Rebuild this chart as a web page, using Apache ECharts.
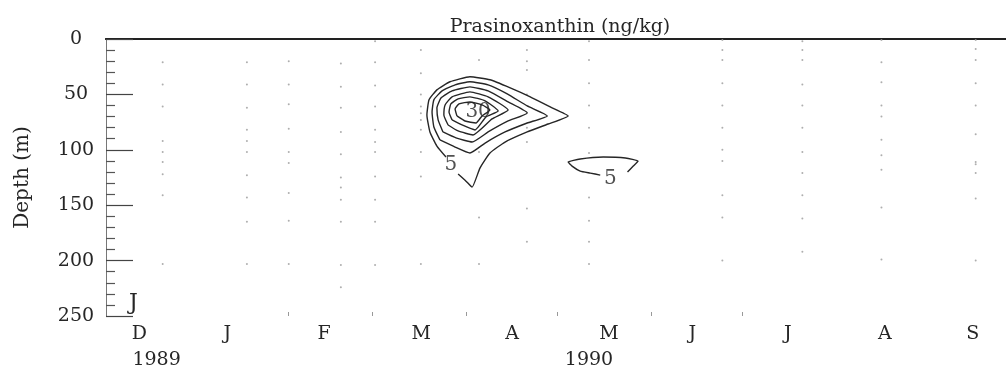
<!DOCTYPE html>
<html><head><meta charset="utf-8">
<script src="https://cdn.jsdelivr.net/npm/echarts@6/dist/echarts.min.js"></script>
<style>html,body{margin:0;padding:0;background:#fff}#c{width:1006px;height:371px}</style>
</head><body><div id="c"></div>
<script>
// x unit: days since 1 Dec 1989 ; y unit: depth (m)
const monthLabels = ['D','J','F','M','A','M','J','J','A','S'];
const monthLabelDays = [13, 42, 74, 106, 136, 168, 195.5, 227, 259, 288];
const monthStartDays = [62, 90, 121, 151, 182, 212];
const yearLabels = ['1989', '1990'];
const yearLabelDays = [18.7, 161.4];
const depthTicks = [0, 50, 100, 150, 200, 250];

// sampling stations (day) and sampled depths (m)
const sampleDays = [20.7, 48.5, 62.3, 79.5, 90.8, 105.9, 125.1, 140.9, 161.4, 205.4, 231.8, 257.9, 289.0];
const sampleDepths = [
  [21, 41, 61, 92, 102, 111, 122, 141, 203],
  [21, 41, 62, 82, 92, 102, 123, 143, 165, 203],
  [20, 41, 59, 81, 102, 112, 139, 164, 203],
  [22, 43, 62, 84, 104, 125, 134, 145, 165, 204, 224],
  [2, 21, 42, 61, 82, 93, 102, 124, 145, 165, 204],
  [10, 31, 50, 61, 67, 73, 82, 102, 124, 203],
  [19, 102, 161, 203],
  [10, 20, 28, 50, 80, 93, 153, 183],
  [2, 19, 40, 60, 80, 103, 143, 164, 183, 203],
  [1, 10, 19, 40, 60, 80, 100, 110, 141, 161, 200],
  [2, 10, 19, 41, 60, 80, 102, 121, 141, 162, 192],
  [1, 21, 39, 60, 70, 91, 105, 118, 152, 199],
  [1, 9, 19, 40, 60, 86, 111, 113, 121, 144, 200]
];

const contour5 = [[114.2,106.5],[111.2,96.6],[108.9,83.9],[107.9,68.5],[108.6,54.9],[111.2,45.9],[115.5,38.6],[122.1,34.1],[128.7,36.8],[135.4,44.1],[142.0,52.2],[148.6,61.3],[154.5,69.4],[147.9,76.7],[141.0,83.9],[133.7,93.0],[128.7,102.9],[125.4,116.5],[122.8,133.7],[120.8,128.3],[118.2,121.9]];
const contour10 = [[112.2,91.1],[110.2,79.4],[109.6,65.8],[110.2,54.9],[112.9,46.8],[117.2,41.4],[122.1,38.6],[128.1,41.4],[134.4,49.5],[141.0,60.4],[147.6,69.4],[141.0,75.8],[133.7,83.9],[127.1,93.9],[122.1,102.9],[117.2,97.5],[112.2,91.1]];
const contour15 = [[113.2,83.9],[111.6,73.0],[111.2,62.2],[112.6,53.1],[116.2,46.8],[122.1,43.2],[128.1,46.8],[134.7,56.8],[141.0,66.7],[134.7,74.0],[128.1,83.9],[122.8,93.0],[117.5,89.3],[113.2,83.9]];
const contour20 = [[114.9,77.6],[113.5,68.5],[113.9,59.5],[116.2,52.2],[122.1,47.7],[128.1,52.2],[134.7,64.0],[129.4,72.1],[123.1,86.6],[118.2,83.0],[114.9,77.6]];
const contour25 = [[116.2,73.0],[115.2,65.8],[115.8,58.6],[118.2,54.0],[122.1,52.2],[127.1,55.8],[131.4,64.9],[127.4,70.3],[123.8,82.1],[119.5,77.6],[116.2,73.0]];
const contour30 = [[117.8,69.4],[117.2,63.1],[118.5,58.6],[122.1,56.8],[126.1,59.5],[128.7,64.0],[126.1,69.4],[124.1,75.8],[120.5,74.0],[117.8,69.4]];
const contour5b = [[165.1,122.8],[161.8,121.0],[158.5,119.2],[155.8,114.7],[154.5,111.1],[158.5,108.3],[166.1,106.5],[173.4,107.4],[177.6,110.2],[176.0,114.7],[174.1,120.1]];
const contourLabelText = ['30', '5', '5'];
const contourLabelPos = [[124.8, 65.8], [115.8, 113.8], [168.4, 126.4]];

const FONT = 'DejaVu Serif';
const INK = '#262626';
const X_MIN = 2, X_MAX = 299;

function pick(list, vals, v) {
  for (let i = 0; i < vals.length; i++) if (Math.abs(vals[i] - v) < 0.01) return list[i];
  return '';
}

const dots = [];
sampleDays.forEach((d, i) => sampleDepths[i].forEach(z => dots.push([d, z])));

const contourSeries = [contour5, contour10, contour15, contour20, contour25, contour30, contour5b].map(c => ({
  type: 'line', data: c, symbol: 'none', smooth: 0.15, silent: true,
  lineStyle: { color: INK, width: 1.4 }, z: 3
}));

const chart = echarts.init(document.getElementById('c'), null, { renderer: 'canvas' });
chart.setOption({
  animation: false,
  backgroundColor: '#fff',
  title: [
    { text: 'Prasinoxanthin (ng/kg)', left: 555, top: 13, textAlign: 'center',
      textStyle: { fontFamily: FONT, fontSize: 19, fontWeight: 'normal', color: INK } },
    { text: 'J', left: 124, top: 287,
      textStyle: { fontFamily: FONT, fontSize: 22, fontWeight: 'normal', color: INK } }
  ],
  grid: { left: 106, right: 0, top: 39, bottom: 55 },
  xAxis: [
    { type: 'value', position: 'bottom', min: X_MIN, max: X_MAX,
      axisLine: { show: true, lineStyle: { color: '#222', width: 2 } },
      axisTick: { show: false },
      axisLabel: { show: true, customValues: monthLabelDays, margin: 9,
        formatter: v => pick(monthLabels, monthLabelDays, v),
        fontFamily: FONT, fontSize: 19, color: INK },
      splitLine: { show: false } },
    { type: 'value', position: 'top', min: X_MIN, max: X_MAX,
      axisLine: { show: true, lineStyle: { color: '#222', width: 2 } },
      axisTick: { show: false }, axisLabel: { show: false }, splitLine: { show: false } },
    { type: 'value', position: 'bottom', min: X_MIN, max: X_MAX,
      axisLine: { show: false },
      axisTick: { show: true, inside: true, length: 4, customValues: monthStartDays, lineStyle: { color: '#999' } },
      axisLabel: { show: true, customValues: yearLabelDays, margin: 35,
        formatter: v => pick(yearLabels, yearLabelDays, v),
        fontFamily: FONT, fontSize: 19, color: INK },
      splitLine: { show: false } }
  ],
  yAxis: {
    type: 'value', inverse: true, min: 0, max: 250, interval: 50,
    name: 'Depth (m)', nameLocation: 'middle', nameGap: 73, nameRotate: 90,
    nameTextStyle: { fontFamily: FONT, fontSize: 20, color: INK },
    axisLine: { show: true, lineStyle: { color: '#777', width: 1 } },
    axisTick: { show: true, inside: true, length: 27, lineStyle: { color: '#444', width: 1.2 } },
    minorTick: { show: true, splitNumber: 5, length: 9, lineStyle: { color: '#555', width: 1.2 } },
    axisLabel: { show: true, margin: 30, align: 'center', padding: [0, 0, 5, 0],
      formatter: v => depthTicks.includes(v) ? String(v) : '',
      fontFamily: FONT, fontSize: 19, color: INK },
    splitLine: { show: false }
  },
  series: [
    { type: 'scatter', data: dots, symbol: 'circle', symbolSize: 2, silent: true,
      itemStyle: { color: '#9a9a9a' }, z: 2 },
    ...contourSeries,
    { type: 'scatter', data: contourLabelPos.map((p, i) => ({ value: p, name: contourLabelText[i] })),
      symbolSize: 0, silent: true, z: 4,
      label: { show: true, position: 'inside', formatter: p => p.name,
        fontFamily: FONT, fontSize: 20, color: INK } }
  ]
});
</script></body></html>
